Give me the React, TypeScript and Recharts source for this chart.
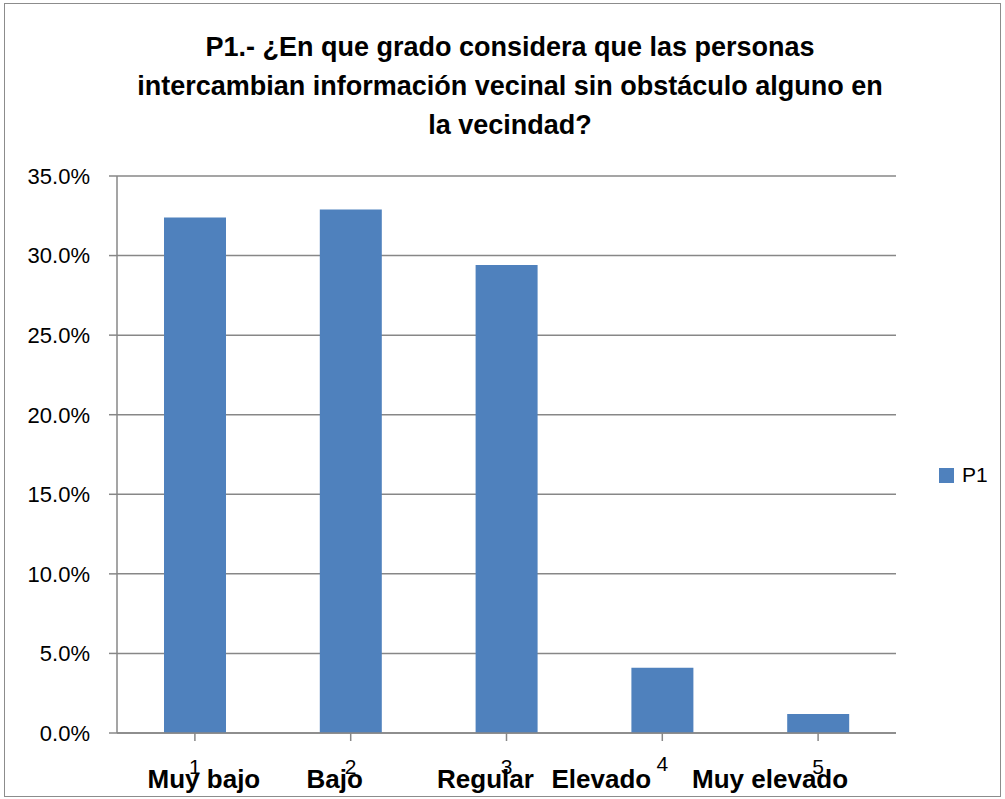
import { BarChart, Bar, XAxis, YAxis, CartesianGrid } from "recharts";

const categories = ["1", "2", "3", "4", "5"];
const levelLabels = ["Muy bajo", "Bajo", "Regular", "Elevado", "Muy elevado"];
const p1Values = [0.324, 0.329, 0.294, 0.041, 0.012];
const yTicks = [0, 0.05, 0.1, 0.15, 0.2, 0.25, 0.3, 0.35];
const titleLines = [
    "P1.- ¿En que grado considera que las personas",
    "intercambian información vecinal sin obstáculo alguno en",
    "la vecindad?",
];

// how far each text label sits off its category centre in the original
const labelNudge = [9, -16, -21, -61, -48];
const numberLift = [0, 0, 0, 3, 0];

const chartData = categories.map((c, i) => ({ num: c, label: levelLabels[i], P1: p1Values[i] }));

const FONT = "'Liberation Sans', Arial, sans-serif";
const GRID = "#878787";
const BLUE = "#4f81bd";

const CategoryTick = (props: any) => {
    const { x, y, payload } = props;
    const i = payload.index;
    return (
        <g>
            <text x={x} y={y + 31 - numberLift[i]} textAnchor="middle" fontSize={21} fontFamily={FONT} fill="#000">
                {payload.value}
            </text>
            <text x={x + labelNudge[i]} y={y + 45} textAnchor="middle" fontSize={26} fontWeight="bold" fontFamily={FONT} fill="#000">
                {levelLabels[i]}
            </text>
        </g>
    );
};

const App = () => {
    return (
        <div style={{ position: "absolute", left: 0, top: 0, width: 1005, height: 799, background: "#fff", fontFamily: FONT }}>
            <div style={{ position: "absolute", left: 4, top: 3, width: 997, height: 794, border: "1px solid #8c8c8c", boxSizing: "border-box" }} />
            <div style={{ position: "absolute", left: 0, top: 28, width: 1020, textAlign: "center", fontWeight: "bold", fontSize: 27, lineHeight: "39px", color: "#000" }}>
                {titleLines.map((t) => (
                    <div key={t}>{t}</div>
                ))}
            </div>
            <div style={{ position: "absolute", left: 0, top: 0 }}>
                <BarChart width={1005} height={799} data={chartData} margin={{ top: 176, right: 109, bottom: 0, left: 0 }}>
                    <CartesianGrid horizontal vertical={false} stroke={GRID} strokeWidth={1.5} />
                    <XAxis
                        dataKey="num"
                        height={66}
                        tickSize={8}
                        tickMargin={2}
                        stroke={GRID}
                        strokeWidth={1.5}
                        tickLine={{ stroke: GRID }}
                        tick={<CategoryTick />}
                        interval={0}
                    />
                    <YAxis
                        width={117}
                        domain={[0, 0.35]}
                        ticks={yTicks}
                        tickSize={8}
                        tickMargin={19}
                        stroke={GRID}
                        strokeWidth={1.5}
                        tick={{ fill: "#000", fontSize: 22, fontFamily: FONT }}
                        tickFormatter={(v: number) => (v * 100).toFixed(1) + "%"}
                    />
                    <Bar dataKey="P1" fill={BLUE} barSize={62} isAnimationActive={false} />
                </BarChart>
            </div>
            <div style={{ position: "absolute", left: 939, top: 463, display: "flex", alignItems: "center", fontSize: 21 }}>
                <span style={{ display: "inline-block", width: 15, height: 15, background: BLUE, marginRight: 8 }} />
                <span>P1</span>
            </div>
        </div>
    );
};

export default App;
